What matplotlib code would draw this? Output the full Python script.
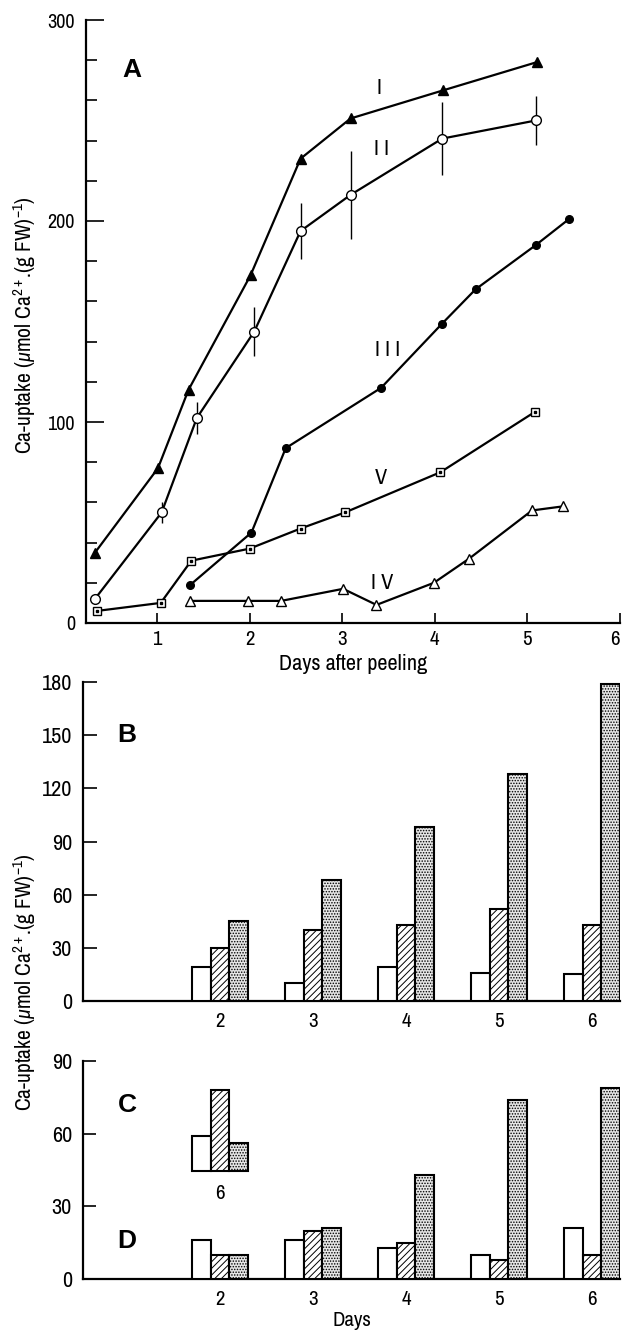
import numpy as np
import matplotlib
matplotlib.use("Agg")
import matplotlib.pyplot as plt
from matplotlib import font_manager

# panel A: Ca uptake vs days after peeling
I_x = [0.33, 1.01, 1.34, 2.01, 2.55, 3.09, 4.09, 5.10]
I_y = [35, 77, 116, 173, 231, 251, 265, 279]
II_x = [0.33, 1.05, 1.43, 2.05, 2.55, 3.09, 4.08, 5.09]
II_y = [12, 55, 102, 145, 195, 213, 241, 250]
II_err = [0, 5, 8, 12, 14, 22, 18, 12]
III_x = [1.36, 2.02, 2.39, 3.42, 4.08, 4.44, 5.09, 5.45]
III_y = [19, 45, 87, 117, 149, 166, 188, 201]
IV_x = [1.36, 1.98, 2.34, 3.01, 3.37, 3.99, 4.37, 5.05, 5.38]
IV_y = [11, 11, 11, 17, 9, 20, 32, 56, 58]
V_x = [0.35, 1.04, 1.37, 2.00, 2.55, 3.03, 4.06, 5.08]
V_y = [6, 10, 31, 37, 47, 55, 75, 105]

# panel B, C, D: bars per day
days = [2, 3, 4, 5, 6]
B_open = [19, 10, 19, 16, 15]
B_hatch = [30, 40, 43, 52, 43]
B_dot = [45, 68, 98, 128, 179]
C_day = ["6"]
C_vals = [59, 78, 56]
D_open = [16, 16, 13, 10, 21]
D_hatch = [10, 20, 15, 8, 10]
D_dot = [10, 21, 43, 74, 79]

# look for a narrow sans, like the journal's condensed face
cond, stretch = "Liberation Sans", "normal"
for f in font_manager.fontManager.ttflist:
    if "Narrow" in f.name or "Condensed" in f.name:
        cond, stretch = f.name, "normal"
        break
else:
    for f in font_manager.fontManager.ttflist:
        if f.name == "DejaVu Sans" and f.stretch not in ("normal", 500):
            cond, stretch = "DejaVu Sans", "condensed"
            break
plt.rcParams["font.family"] = [cond, "DejaVu Sans"]
plt.rcParams["font.stretch"] = stretch
plt.rcParams["mathtext.fontset"] = "custom"
plt.rcParams["mathtext.rm"] = cond
plt.rcParams["mathtext.it"] = cond + ":italic"
plt.rcParams["hatch.linewidth"] = 0.7

W, H = 622, 1335
fig = plt.figure(figsize=(6.22, 13.35), dpi=100)


def px_axes(l, t, r, b):
    ax = fig.add_axes([l / W, 1 - b / H, (r - l) / W, (b - t) / H])
    ax.spines["top"].set_visible(False)
    ax.spines["right"].set_visible(False)
    ax.spines["left"].set_linewidth(1.6)
    ax.spines["bottom"].set_linewidth(1.6)
    return ax


ylab = "Ca-uptake ($\\mu$mol Ca$^{2+}$.(g FW)$^{-1}$)"
letter = dict(fontsize=19, fontweight="bold", family="Liberation Sans", ha="center", va="center")

########## A
axA = px_axes(86, 20, 620, 623)
lw = 1.6
axA.plot(I_x, I_y, color="k", lw=lw, marker="^", ms=6.5, mfc="k")
axA.errorbar(II_x, II_y, yerr=II_err, color="k", lw=lw, elinewidth=1.0, capsize=0,
             marker="o", ms=7, mfc="white", mec="k", mew=1.0)
axA.plot(III_x, III_y, color="k", lw=lw, marker="o", ms=5.5, mfc="k")
axA.plot(IV_x, IV_y, color="k", lw=lw, marker="^", ms=6.5, mfc="white", mew=1.0)
axA.plot(V_x, V_y, color="k", lw=lw, marker="s", ms=6, mfc="white", mew=1.0)
axA.plot(V_x, V_y, linestyle="", marker="s", ms=1.5, color="k")

for txt, x, y in [("I", 3.40, 266), ("I I", 3.43, 236), ("I I I", 3.49, 136), ("V", 3.42, 72), ("I V", 3.43, 20)]:
    axA.text(x, y, txt, fontsize=16, ha="center", va="center")
axA.text(0.73, 275, "A", **letter)

axA.set_xlim(0.233, 6.0)
axA.set_ylim(0, 300)
axA.set_xticks([1, 2, 3, 4, 5, 6])
axA.set_yticks([0, 100, 200, 300])
axA.set_yticks(np.arange(0, 301, 20), minor=True)
axA.tick_params(axis="y", which="major", direction="in", length=13, width=1.2, labelsize=14.5, pad=8)
axA.tick_params(axis="y", which="minor", direction="in", length=8, width=1.2)
axA.tick_params(axis="x", direction="in", length=7, width=1.2, labelsize=15, pad=5)
axA.get_xticklabels()[-1].set_ha("right")
axA.set_xlabel("Days after peeling", fontsize=16, labelpad=4)

########## B
bw = 0.2
axB = px_axes(83, 682, 620, 1001)
x = np.array(days)
kw = dict(width=bw, edgecolor="k", linewidth=1.5, zorder=3)
axB.bar(x - bw, B_open, facecolor="white", **kw)
axB.bar(x, B_hatch, facecolor="white", hatch="/////", **kw)
axB.bar(x + bw, B_dot, facecolor="#e6e6e6", hatch="......", **kw)
axB.set_xlim(0.527, 6.30)
axB.set_ylim(0, 180)
axB.set_xticks(days)
axB.set_yticks(np.arange(0, 181, 30))
axB.tick_params(axis="y", direction="in", length=10, width=1.2, labelsize=16, pad=8)
axB.tick_params(axis="x", length=0, labelsize=15, pad=8)
axB.text(1.0, 150, "B", **letter)

########## C / D
axD = px_axes(83, 1061, 620, 1279)
axD.bar(x - bw, D_open, facecolor="white", **kw)
axD.bar(x, D_hatch, facecolor="white", hatch="/////", **kw)
axD.bar(x + bw, D_dot, facecolor="#e6e6e6", hatch="......", **kw)
c_base = 44.6
cx = np.array([2 - bw, 2, 2 + bw])
c_h = np.array(C_vals) - c_base
axD.bar(cx[0], c_h[0], bottom=c_base, facecolor="white", **kw)
axD.bar(cx[1], c_h[1], bottom=c_base, facecolor="white", hatch="/////", **kw)
axD.bar(cx[2], c_h[2], bottom=c_base, facecolor="#e6e6e6", hatch="......", **kw)
axD.text(2, 35.5, C_day[0], fontsize=15, ha="center", va="center")
axD.set_xlim(0.527, 6.30)
axD.set_ylim(0, 90)
axD.set_xticks(days)
axD.set_yticks([0, 30, 60, 90])
axD.tick_params(axis="y", direction="in", length=9, width=1.2, labelsize=16, pad=8)
axD.tick_params(axis="x", length=0, labelsize=15, pad=8)
axD.set_xlabel("Days", fontsize=15, labelpad=1)
axD.text(1.0, 72, "C", **letter)
axD.text(1.0, 15.5, "D", **letter)

fig.text(25 / W, 1 - 325 / H, ylab, rotation=90, fontsize=15.5, ha="center", va="center")
fig.text(25 / W, 1 - 982 / H, ylab, rotation=90, fontsize=15.5, ha="center", va="center")

fig.savefig("out.png", dpi=100)
